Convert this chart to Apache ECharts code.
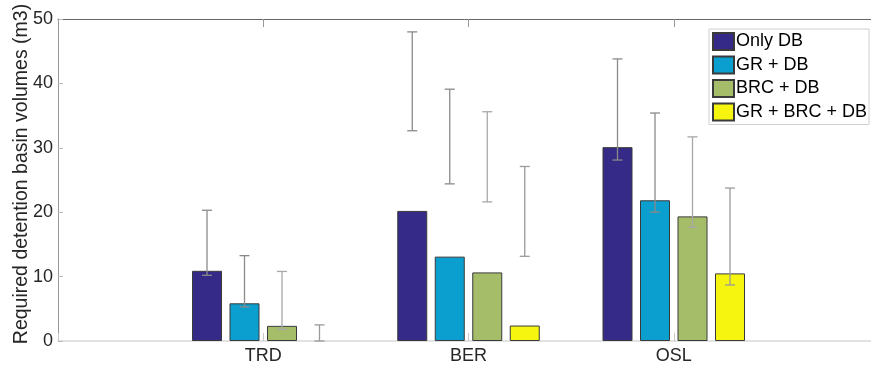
<!DOCTYPE html>
<html>
<head>
<meta charset="utf-8">
<script src="https://cdn.jsdelivr.net/npm/echarts@6/dist/echarts.min.js"></script>
<style>
html,body{margin:0;padding:0;background:#fff;}
#chart{width:871px;height:365px;}
</style>
</head>
<body>
<div id="chart"></div>
<script>
// ---- data ----
const categories = ['TRD', 'BER', 'OSL'];
const seriesNames = ['Only DB', 'GR + DB', 'BRC + DB', 'GR + BRC + DB'];
const onlyDB = [10.9, 20.2, 30.1];
const grDB = [5.85, 13.1, 21.85];
const brcDB = [2.35, 10.65, 19.35];
const grBrcDB = [0, 2.4, 10.5];
const onlyDBLow = [10.2, 32.65, 28.1];
const onlyDBHigh = [20.3, 48.0, 43.8];
const grDBLow = [5.3, 24.4, 20.0];
const grDBHigh = [13.25, 39.1, 35.4];
const brcDBLow = [1.8, 21.6, 17.65];
const brcDBHigh = [10.8, 35.6, 31.7];
const grBrcDBLow = [0, 13.15, 8.7];
const grBrcDBHigh = [2.5, 27.1, 23.75];
const yTicks = [0, 10, 20, 30, 40, 50];

// ---- styles ----
const colors = ['#352a87', '#0a9fcf', '#a5bd69', '#f5f50f'];
const errColors = ['#8a8a8a', '#8a8a8a', '#a8a8a8', '#9a9a9a'];
const BAR_W = 30;
const BAR_GAP = 0.25;
const font = 'Liberation Sans, Arial, Helvetica, sans-serif';

const values = [onlyDB, grDB, brcDB, grBrcDB];
const lows = [onlyDBLow, grDBLow, brcDBLow, grBrcDBLow];
const highs = [onlyDBHigh, grDBHigh, brcDBHigh, grBrcDBHigh];

const axisData = [''].concat(categories).concat(['']);

const barSeries = seriesNames.map((name, s) => ({
  name: name,
  type: 'bar',
  barWidth: BAR_W,
  barGap: (BAR_GAP * 100) + '%',
  data: values[s].map((v, i) => v === 0
    ? { value: [i + 1, v], itemStyle: { borderWidth: 0 } }
    : [i + 1, v]),
  itemStyle: { color: colors[s], borderColor: '#3a3a3a', borderWidth: 1 },
  z: 2
}));

const errData = [];
for (let s = 0; s < 4; s++) {
  for (let i = 0; i < categories.length; i++) {
    errData.push([i + 1, s, lows[s][i], highs[s][i]]);
  }
}

const errSeries = {
  type: 'custom',
  name: 'err',
  data: errData,
  encode: { x: 0, y: [2, 3] },
  z: 5,
  renderItem: function (params, api) {
    const ci = api.value(0);
    const s = api.value(1);
    const pitch = BAR_W * (1 + BAR_GAP);
    const cx = api.coord([ci, 0])[0] + (s - 1.5) * pitch;
    const yl = api.coord([ci, api.value(2)])[1];
    const yh = api.coord([ci, api.value(3)])[1];
    const hw = 5;
    const st = { stroke: errColors[s], lineWidth: 1.3 };
    return {
      type: 'group',
      children: [
        { type: 'line', shape: { x1: cx, y1: yl, x2: cx, y2: yh }, style: st },
        { type: 'line', shape: { x1: cx - hw, y1: yl, x2: cx + hw, y2: yl }, style: st },
        { type: 'line', shape: { x1: cx - hw, y1: yh, x2: cx + hw, y2: yh }, style: st }
      ]
    };
  }
};

const chart = echarts.init(document.getElementById('chart'));
chart.setOption({
  backgroundColor: '#fff',
  animation: false,
  grid: { left: 58, top: 19, width: 821, height: 322, containLabel: false, outerBoundsMode: 'none' },
  legend: {
    data: seriesNames,
    orient: 'vertical',
    left: 709,
    top: 29,
    itemWidth: 21,
    itemHeight: 17,
    itemGap: 4.5,
    padding: [3, 2, 3, 3],
    backgroundColor: '#fff',
    borderColor: '#d0d0d0',
    borderWidth: 1,
    borderRadius: 0,
    icon: 'rect',
    textStyle: { fontFamily: font, fontSize: 18, color: '#000', padding: [0, 0, 0, -3] }
  },
  xAxis: [{
    type: 'category',
    data: axisData,
    boundaryGap: false,
    axisLine: { lineStyle: { color: '#d9d9d9', width: 1.5 } },
    axisTick: { inside: true, length: 8, lineStyle: { color: '#c8c8c8' } },
    axisLabel: { fontFamily: font, fontSize: 18, color: '#262626', margin: 6 },
    splitLine: { show: false }
  }, {
    type: 'category',
    position: 'top',
    data: axisData,
    boundaryGap: false,
    axisLine: { lineStyle: { color: '#666', width: 1 } },
    axisTick: { inside: true, length: 8, lineStyle: { color: '#999' } },
    axisLabel: { show: false },
    splitLine: { show: false }
  }],
  yAxis: {
    type: 'value',
    min: yTicks[0],
    max: yTicks[yTicks.length - 1],
    interval: yTicks[1] - yTicks[0],
    name: 'Required detention basin volumes (m3)',
    nameLocation: 'middle',
    nameGap: 26,
    nameMoveOverlap: false,
    nameTextStyle: { fontFamily: font, fontSize: 19.5, color: '#262626', padding: [0, 0, 0, 12] },
    axisLine: { show: true, lineStyle: { color: '#999' } },
    axisTick: { show: true, inside: true, length: 5, lineStyle: { color: '#bbb' } },
    axisLabel: { fontFamily: font, fontSize: 18, color: '#262626', margin: 5 },
    splitLine: { show: false }
  },
  series: barSeries.concat([errSeries])
});
</script>
</body>
</html>
